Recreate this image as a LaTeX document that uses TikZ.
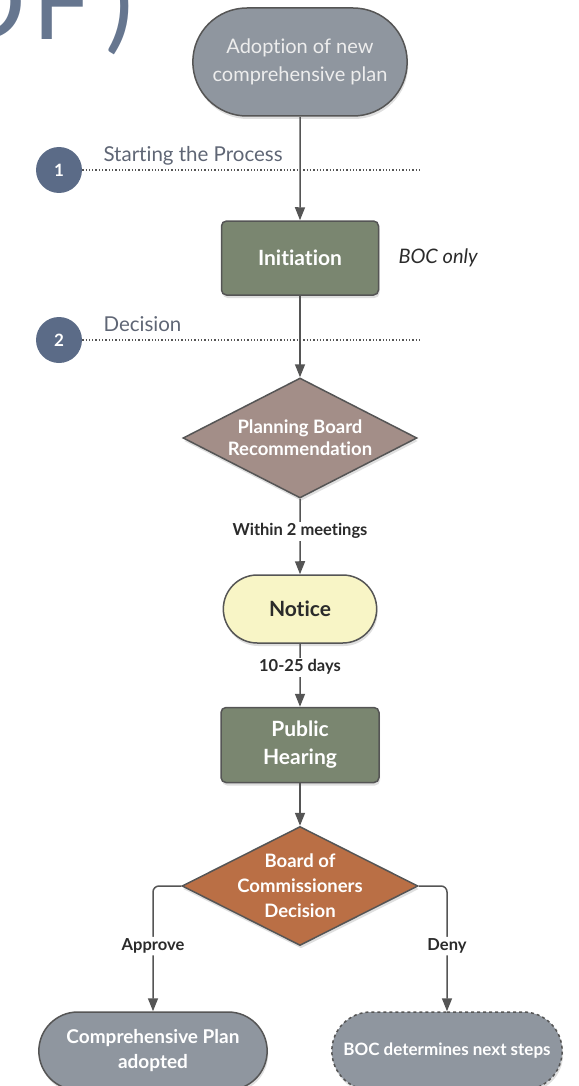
\documentclass[tikz,border=0pt]{standalone}
\usepackage{fontspec}
\setmainfont{Lato}[Ligatures={CommonOff}]
\usepackage{xcolor}
\usetikzlibrary{
    shapes.geometric,
    shapes.misc,
    arrows.meta,
    positioning,
    shadows
}

\definecolor{termgray}{HTML}{8F969F}
\definecolor{procgreen}{HTML}{7A8670}
\definecolor{pbmauve}{HTML}{A38E88}
\definecolor{noticeyel}{HTML}{F8F5C6}
\definecolor{bocorange}{HTML}{BA6F45}
\definecolor{circblue}{HTML}{5B6B87}
\definecolor{titleblue}{HTML}{66768F}
\definecolor{linegray}{HTML}{555555}
\definecolor{labeltext}{HTML}{2B2B2B}
\definecolor{sectext}{HTML}{5F6675}

\begin{document}
\begin{tikzpicture}[
    x=1pt, y=-1pt,
    box/.style={
        draw=linegray,
        line width=1.5pt,
        text=white,
        align=center,
        font=\bfseries\fontsize{21}{28}\selectfont,
        drop shadow={shadow xshift=1pt, shadow yshift=-3pt, opacity=0.25}
    },
    terminal/.style={box, rounded rectangle, fill=termgray},
    process/.style={box, rectangle, rounded corners=5pt, fill=procgreen},
    decision/.style={box, diamond, aspect=2, inner xsep=-8pt, inner ysep=-10pt},
    numcircle/.style={
        circle,
        fill=circblue,
        text=white,
        minimum size=46pt,
        inner sep=0pt,
        font=\bfseries\fontsize{17}{20}\selectfont
    },
    section/.style={anchor=base west, text=sectext, font=\fontsize{20.5}{24}\selectfont},
    steplabel/.style={fill=white, text=labeltext, inner sep=2pt, font=\bfseries\fontsize{16.5}{20}\selectfont},
    divider/.style={dotted, line width=1.3pt, linegray},
    arrow/.style={-{Triangle[length=13pt, width=10pt]}, line width=1.5pt, linegray}
]

\useasboundingbox (0,0) rectangle (578,1086);
\clip (0,0) rectangle (578,1086);

% Title (cut off)
\node[anchor=base west, text=titleblue, inner sep=0pt,
      font=\fontsize{105}{110}\selectfont] (title) at (-54,40) {D\kern6pt F\kern14pt)};

% ===== Stages =====
\node[numcircle] (num1) at (59,170) {1};
\node[numcircle] (num2) at (59,340) {2};
\coordinate (end1) at (420,170);
\coordinate (end2) at (420,340);
\draw[divider] (num1.east) -- (end1);
\draw[divider] (num2.east) -- (end2);
\node[section] (sec1) at (100,162) {Starting the Process};
\node[section] (sec2) at (100,331) {Decision};

% ===== Flow nodes =====
\node[terminal, minimum width=221pt, minimum height=108pt,
      font=\fontsize{20}{28}\selectfont, text=white!93!black] (start) at (300,62)
      {Adoption of new\\comprehensive plan};
\node[process, minimum width=157pt, minimum height=74pt] (init) at (300,258) {Initiation};
\node[anchor=west, font=\itshape\fontsize{20}{24}\selectfont, text=labeltext] (boconly) at (395,258) {BOC only};

\node[decision, fill=pbmauve, minimum width=234pt, minimum height=120pt,
      font=\bfseries\fontsize{18.5}{22}\selectfont] (pbrec) at (300,438)
      {Planning Board\\Recommendation};
\node[terminal, fill=noticeyel, text=labeltext, minimum width=160pt, minimum height=68pt,
      font=\bfseries\fontsize{21}{25}\selectfont] (notice) at (300,609) {Notice};
\node[process, minimum width=158pt, minimum height=75pt] (hearing) at (300,745) {Public\\Hearing};
\node[decision, fill=bocorange, minimum width=236pt, minimum height=119pt,
      font=\bfseries\fontsize{18.5}{25}\selectfont] (bocdec) at (300,886)
      {Board of\\Commissioners\\Decision};

\node[terminal, minimum width=235pt, minimum height=78pt,
      font=\bfseries\fontsize{19}{25}\selectfont] (adopted) at (153,1051)
      {Comprehensive Plan\\adopted};
\node[terminal, dashed, minimum width=237pt, minimum height=78pt,
      font=\bfseries\fontsize{17}{20}\selectfont] (nextsteps) at (447,1051)
      {BOC determines next steps};

% ===== Connectors =====
\draw[arrow] (start) -- (init);
\draw[arrow] (init) -- (pbrec);
\draw[arrow] (pbrec) -- node[steplabel, pos=0.43] {Within 2 meetings} (notice);
\draw[arrow] (notice) -- node[steplabel, pos=0.37] {10-25 days} (hearing);
\draw[arrow] (hearing) -- (bocdec);
\draw[arrow, rounded corners=6pt] (bocdec.west) -| node[steplabel, pos=0.74] {Approve} (adopted.north);
\draw[arrow, rounded corners=6pt] (bocdec.east) -| node[steplabel, pos=0.74] {Deny} (nextsteps.north);

\end{tikzpicture}
\end{document}
